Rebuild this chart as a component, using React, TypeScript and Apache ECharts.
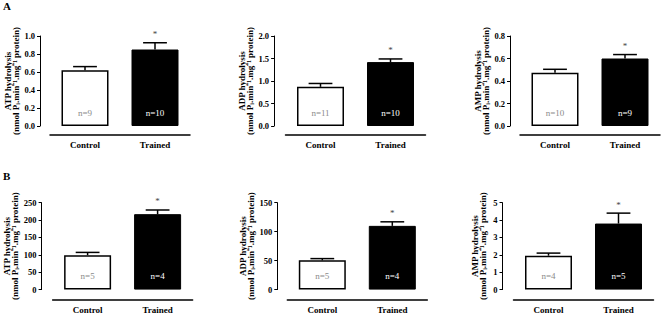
import React, { useEffect, useRef } from "react";
import * as echarts from "echarts";

// ---- data ----
const categories = ["Control", "Trained"];
const yTitles = ["ATP hydrolysis", "ADP hydrolysis", "AMP hydrolysis"];
const yUnit = "(nmol Pᵢ.min⁻¹.mg⁻¹ protein)";
const panelLetters = ["A", "B"];

// Panel A
const atpA = [0.62, 0.85];
const atpAErr = [0.04, 0.075];
const atpAN = [9, 10];
const adpA = [0.87, 1.42];
const adpAErr = [0.075, 0.07];
const adpAN = [11, 10];
const ampA = [0.474, 0.6];
const ampAErr = [0.03, 0.035];
const ampAN = [10, 9];
const yMaxA = [1.0, 2.0, 0.8];
const yIntervalA = [0.2, 0.5, 0.2];

// Panel B
const atpB = [99, 217];
const atpBErr = [8, 12];
const atpBN = [5, 4];
const adpB = [50.5, 110];
const adpBErr = [3, 7];
const adpBN = [5, 4];
const ampB = [1.95, 3.8];
const ampBErr = [0.15, 0.6];
const ampBN = [4, 5];
const yMaxB = [250, 150, 5];
const yIntervalB = [50, 50, 1];

const significant = [false, true];

// ---- layout (positions only) ----
const FONT = "Liberation Serif";
const W = 661;
const H = 314;
const gridLeft = [50, 285.5, 520, 52.6, 287.3, 513.5];
const gridWidth = 140;
const gridTopA = 36;
const gridBottomA = 314 - 126;
const gridTopB = 202.7;
const gridBottomB = 314 - 292.3;
const yOffset = [10, 11.4, 10, 11, 10, 11];
const xOffset = [9, 9, 9, 10.4, 10.4, 10.4];

export default function App() {
  const ref = useRef<HTMLDivElement>(null);

  useEffect(() => {
    if (!ref.current) return;
    const chart = echarts.init(ref.current, null, { renderer: "svg", width: W, height: H });

    const values = [atpA, adpA, ampA, atpB, adpB, ampB];
    const errs = [atpAErr, adpAErr, ampAErr, atpBErr, adpBErr, ampBErr];
    const ns = [atpAN, adpAN, ampAN, atpBN, adpBN, ampBN];
    const maxes = [...yMaxA, ...yMaxB];
    const intervals = [...yIntervalA, ...yIntervalB];
    const decimals = [1, 1, 1, 0, 0, 0];

    const grid: any[] = [];
    const xAxis: any[] = [];
    const yAxis: any[] = [];
    const series: any[] = [];

    for (let i = 0; i < 6; i++) {
      const isA = i < 3;
      grid.push({
        left: gridLeft[i],
        width: gridWidth,
        top: isA ? gridTopA : gridTopB,
        bottom: isA ? gridBottomA : gridBottomB,
        containLabel: false,
      });
      xAxis.push({
        type: "category",
        gridIndex: i,
        data: categories,
        offset: xOffset[i],
        axisLine: { onZero: false, lineStyle: { color: "#000", width: 1.5 } },
        axisTick: { alignWithLabel: true, length: 3, lineStyle: { color: "#000", width: 1 } },
        axisLabel: {
          fontFamily: FONT,
          fontWeight: "bold",
          fontSize: 9,
          color: "#000",
          margin: 5,
        },
        splitLine: { show: false },
      });
      const dec = decimals[i];
      yAxis.push({
        type: "value",
        gridIndex: i,
        min: 0,
        max: maxes[i],
        interval: intervals[i],
        offset: yOffset[i],
        axisLine: { show: true, lineStyle: { color: "#000", width: 1 } },
        axisTick: { show: true, length: 3, lineStyle: { color: "#000", width: 1 } },
        axisLabel: {
          fontFamily: FONT,
          fontWeight: "bold",
          fontSize: 8.5,
          color: "#000",
          margin: 5,
          formatter: (v: number) => v.toFixed(dec),
        },
        splitLine: { show: false },
        name: yTitles[i % 3] + "\n" + yUnit,
        nameLocation: "middle",
        nameRotate: 90,
        nameGap: 16,
        nameTextStyle: {
          fontFamily: FONT,
          fontWeight: "bold",
          fontSize: 9,
          lineHeight: 8,
          color: "#000",
        },
      });

      const vals = values[i];
      const nArr = ns[i];
      series.push({
        type: "bar",
        xAxisIndex: i,
        yAxisIndex: i,
        barWidth: 47,
        silent: true,
        data: vals.map((v, k) => ({
          value: v,
          itemStyle:
            k === 0
              ? { color: "#fff", borderColor: "#000", borderWidth: 1.5 }
              : { color: "#000", borderColor: "#000", borderWidth: 1 },
          label: {
            show: true,
            position: "insideBottom",
            distance: 9,
            formatter: "n=" + nArr[k],
            fontFamily: FONT,
            fontSize: 9,
            color: k === 0 ? "#8a8a8a" : "#fff",
          },
        })),
      });

      const errArr = errs[i];
      series.push({
        type: "custom",
        xAxisIndex: i,
        yAxisIndex: i,
        silent: true,
        clip: false,
        z: 5,
        data: vals.map((v, k) => [k, v, errArr[k], significant[k] ? 1 : 0]),
        encode: { x: 0, y: 1 },
        renderItem: (params: any, api: any) => {
          const k = api.value(0);
          const v = api.value(1);
          const e = api.value(2);
          const sig = api.value(3);
          const base = api.coord([k, v]);
          const top = api.coord([k, v + e]);
          const hw = api.size([1, 0])[0] * 0.17;
          const children: any[] = [
            {
              type: "line",
              shape: { x1: base[0], y1: base[1], x2: top[0], y2: top[1] },
              style: { stroke: "#000", lineWidth: 1.5 },
            },
            {
              type: "line",
              shape: { x1: top[0] - hw, y1: top[1], x2: top[0] + hw, y2: top[1] },
              style: { stroke: "#000", lineWidth: 1.5 },
            },
          ];
          if (sig) {
            children.push({
              type: "text",
              style: {
                text: "*",
                x: top[0],
                y: top[1] - 4,
                align: "center",
                verticalAlign: "bottom",
                fontFamily: FONT,
                fontSize: 9,
                fill: "#444",
              },
            });
          }
          return { type: "group", children };
        },
      });
    }

    chart.setOption({
      animation: false,
      backgroundColor: "#fff",
      grid,
      xAxis,
      yAxis,
      series,
      graphic: [
        {
          type: "text",
          left: 3,
          top: 0,
          style: { text: panelLetters[0], fontFamily: FONT, fontWeight: "bold", fontSize: 11, fill: "#000" },
        },
        {
          type: "text",
          left: 3,
          top: 170,
          style: { text: panelLetters[1], fontFamily: FONT, fontWeight: "bold", fontSize: 11, fill: "#000" },
        },
      ],
    });

    return () => chart.dispose();
  }, []);

  return (
    <div
      ref={ref}
      style={{ position: "fixed", left: 0, top: 0, width: W, height: H, background: "#fff" }}
    />
  );
}
